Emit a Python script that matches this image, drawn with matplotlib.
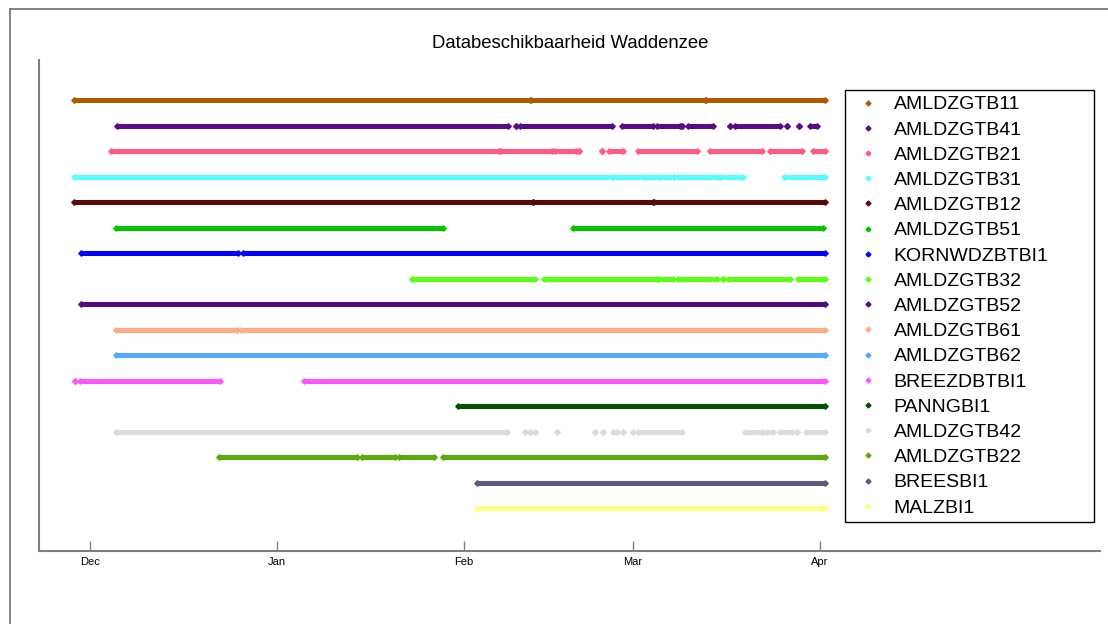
import numpy as np
import pandas as pd
import matplotlib
matplotlib.use("Agg")
from matplotlib import pyplot as plt
from matplotlib.lines import Line2D
import matplotlib.dates as mdates

plt.rcParams['font.family'] = ['Liberation Sans', 'DejaVu Sans']

# Day 0 of the time axis
day0 = pd.Timestamp("2006-12-01")

# Station names, top to bottom
names = ["AMLDZGTB11", "AMLDZGTB41", "AMLDZGTB21", "AMLDZGTB31", "AMLDZGTB12",
         "AMLDZGTB51", "KORNWDZBTBI1", "AMLDZGTB32", "AMLDZGTB52", "AMLDZGTB61",
         "AMLDZGTB62", "BREEZDBTBI1", "PANNGBI1", "AMLDZGTB42", "AMLDZGTB22",
         "BREESBI1", "MALZBI1"]

colors = ["#B05A00", "#5A0A82", "#FF5A82", "#55FFFF", "#5A0A0A",
          "#00C800", "#0000FF", "#5AFF14", "#500A82", "#FFAA82",
          "#55AAFF", "#FF55FF", "#005000", "#DCDCDC", "#5AAA0A",
          "#5A5A82", "#FFFF82"]

# Periods with data (days after 1 Dec)
amldzgtb11 = [(-2.6, 72.9), (73.1, 101.9), (102.1, 121.8)]
amldzgtb41 = [(4.5, 69.3), (70.6, 70.6), (71.3, 86.5), (88.2, 93.3), (94.0, 97.8),
              (98.1, 98.1), (99.1, 103.3), (106.1, 106.1), (106.9, 114.4),
              (115.5, 115.5), (117.5, 117.5), (119.3, 120.5)]
amldzgtb21 = [(3.5, 67.8), (68.1, 76.6), (77.1, 80.6), (81.1, 81.1), (84.9, 84.9),
              (86.0, 88.3), (90.8, 100.6), (102.8, 111.4), (112.7, 118.0),
              (119.8, 121.8)]
amldzgtb31 = [(-2.6, 86.5), (86.7, 91.7), (92.2, 94.1), (94.6, 96.8), (97.5, 103.9),
              (104.4, 108.2), (115.0, 121.8)]
amldzgtb12 = [(-2.6, 73.4), (73.5, 93.3), (93.4, 121.8)]
amldzgtb51 = [(4.3, 58.5), (80.1, 121.5)]
kornwdzbtbi1 = [(-1.5, 24.5), (25.4, 121.8)]
amldzgtb32 = [(53.4, 73.8), (75.3, 94.0), (94.1, 96.6), (97.5, 103.9), (104.9, 104.9),
              (105.8, 116.0), (117.4, 121.8)]
amldzgtb52 = [(-1.5, 121.8)]
amldzgtb61 = [(4.3, 24.4), (25.0, 121.8)]
amldzgtb62 = [(4.3, 121.8)]
breezdbtbi1 = [(-2.5, -2.5), (-1.7, 21.5), (35.5, 121.8)]
panngbi1 = [(61.0, 121.8)]
amldzgtb42 = [(4.3, 69.1), (72.1, 72.1), (72.9, 72.9), (73.8, 73.8), (77.4, 77.4),
              (83.7, 83.7), (85.0, 85.0), (86.7, 87.4), (88.3, 88.3), (90.0, 90.0),
              (90.8, 98.1), (108.6, 111.6), (112.2, 113.2), (114.4, 116.4),
              (117.2, 117.2), (118.7, 121.8)]
amldzgtb22 = [(21.4, 44.3), (45.1, 50.6), (51.2, 57.0), (58.5, 121.8)]
breesbi1 = [(64.1, 121.8)]
malzbi1 = [(64.1, 121.8)]

periods = [amldzgtb11, amldzgtb41, amldzgtb21, amldzgtb31, amldzgtb12,
           amldzgtb51, kornwdzbtbi1, amldzgtb32, amldzgtb52, amldzgtb61,
           amldzgtb62, breezdbtbi1, panngbi1, amldzgtb42, amldzgtb22,
           breesbi1, malzbi1]

tick_months = ["2006-12-01", "2007-01-01", "2007-02-01", "2007-03-01", "2007-04-01"]


def todate(d):
    return mdates.date2num(day0 + pd.Timedelta(days=d))


fig = plt.figure(figsize=(11.08, 6.24), dpi=100)
ax = fig.add_axes([39 / 1108, 1 - 551 / 624, 1061 / 1108, 491 / 624])

n = len(names)
handles = []
for i in range(n):
    yv = n - i
    for (a, b) in periods[i]:
        xa, xb = todate(a), todate(b)
        ax.plot([xa, xb], [yv, yv], '-', color=colors[i], lw=3.6,
                marker='D', ms=2.8, mec=colors[i], solid_capstyle='butt')
    handles.append(Line2D([], [], ls='none', marker='D', ms=2.5,
                          color=colors[i], mec=colors[i]))

ax.set_xlim(todate(-8.45), todate(167.4))
ax.set_ylim(1 - 43 / 25.5, n + 40 / 25.5)
ax.set_yticks([])
ax.set_xticks([mdates.date2num(pd.Timestamp(t)) for t in tick_months])
ax.set_xticklabels(["Dec", "Jan", "Feb", "Mar", "Apr"],
                   fontsize=8, family=['Liberation Sans Narrow', 'Liberation Sans'])
ax.tick_params(axis='x', direction='in', length=7.5, width=1, color='#808080', pad=4.5)
for s in ['top', 'right']:
    ax.spines[s].set_visible(False)
for s in ['left', 'bottom']:
    ax.spines[s].set_color('#808080')
    ax.spines[s].set_linewidth(1.5)

fig.text(570 / 1108, 1 - 44 / 624, "Databeschikbaarheid Waddenzee",
         ha='center', va='center', fontsize=13.3)

leg = fig.legend(handles, names, loc='upper left', mode='expand',
                 bbox_to_anchor=(845 / 1108, 1 - 524 / 624, 249 / 1108, 434 / 624),
                 fontsize=14, frameon=True, fancybox=False, framealpha=1,
                 edgecolor='black', borderaxespad=0, borderpad=0.3,
                 handlelength=1.8, handletextpad=0.4, labelspacing=0.39)
leg.get_frame().set_linewidth(1.0)

# grey frame round the figure
fig.add_artist(Line2D([10 / 1108, 10 / 1108], [0, 1 - 9 / 624], color='#707070', lw=1.2))
fig.add_artist(Line2D([10 / 1108, 1], [1 - 9 / 624, 1 - 9 / 624], color='#707070', lw=1.2))

fig.savefig("out.png", dpi=100)
